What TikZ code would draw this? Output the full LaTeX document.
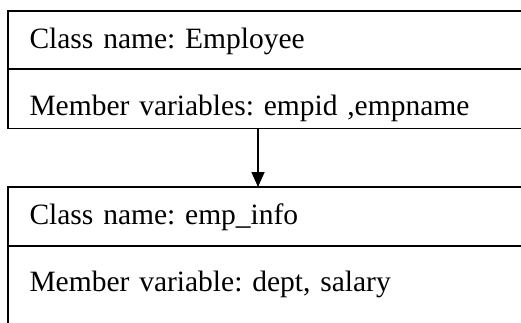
\documentclass[tikz,border=0pt]{standalone}
\usepackage{fontspec}
\setmainfont{Liberation Serif}
\usepackage{tikz}
\usetikzlibrary{arrows.meta,positioning}
\frenchspacing

\tikzset{
  compart/.style={draw,rectangle,line width=1.1pt,outer sep=0pt,
    inner xsep=21.5pt,inner ysep=0pt,text width=517pt,align=left,
    font=\fontsize{29.5}{34}\selectfont},
  inherit/.style={line width=1.6pt,-{Triangle[width=13pt,length=15pt]}}
}

\begin{document}
\begin{tikzpicture}[x=1pt,y=1pt]
      \useasboundingbox (0,0) rectangle (521,-322);
      \clip (0,0) rectangle (521,-322);

      \coordinate (A) at (8,-11);
      \coordinate (B) at (8,-187);
      \coordinate (ax) at (258,0);

      % base class
      \node[compart,anchor=north west,text height=37pt,text depth=21pt] (empname) at (A) {Class name: Employee};
      \node[compart,below=0pt of empname,text height=46pt,text depth=13.5pt] (empvars) {Member variables: empid ,empname};

      % derived class
      \node[compart,anchor=north west,text height=37pt,text depth=22pt] (infoname) at (B) {Class name: emp\_info};
      \node[compart,below=0pt of infoname,text height=45pt,text depth=69pt] (infovars) {Member variable: dept, salary};

      \draw[inherit] (empvars.south -| ax) -- (infoname.north -| ax);

\end{tikzpicture}
\end{document}
